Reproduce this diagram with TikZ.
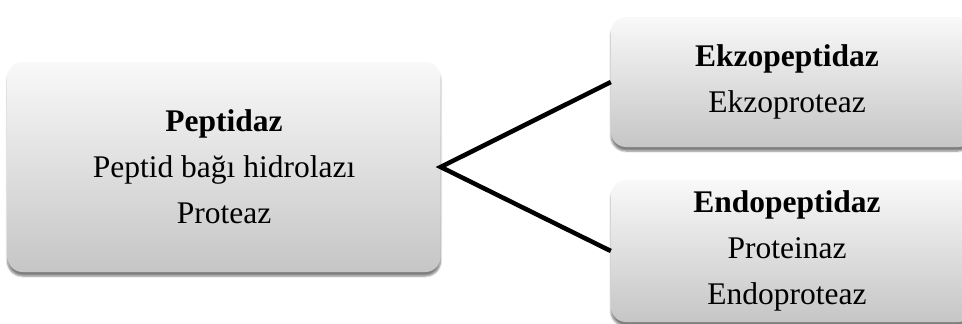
\documentclass[tikz,border=0pt]{standalone}
\usepackage{fontspec}
\setmainfont{Liberation Serif}
\usetikzlibrary{shadows.blur}
\tikzset{
  enzbox/.style={rounded corners=15pt, top color=gray!5, bottom color=gray!45,
    blur shadow={shadow xshift=0pt, shadow yshift=-4pt, shadow blur steps=6, shadow opacity=50},
    align=center, inner sep=0pt, font=\fontsize{31.5}{46}\selectfont},
  branch/.style={line width=4.5pt}
}
\begin{document}
\begin{tikzpicture}[x=1pt, y=-1pt]
    \useasboundingbox (0,0) rectangle (962,324);
    % parent enzyme
    \node[enzbox, minimum width=433pt, minimum height=210pt] (peptidaz) at (224,167)
        {\textbf{Peptidaz}\\Peptid bağı hidrolazı\\Proteaz};
    % two subclasses, cut off at the right edge
    \node[enzbox, minimum width=362pt, minimum height=130pt] (ekzo) at (792,82)
        {\hspace*{-10pt}\textbf{Ekzopeptidaz}\\\hspace*{-10pt}Ekzoproteaz};
    \node[enzbox, minimum width=362pt, minimum height=142pt] (endo) at (792,251)
        {\hspace*{-10pt}\textbf{Endopeptidaz}\\\hspace*{-10pt}Proteinaz\\\hspace*{-10pt}Endoproteaz};
    % fork
    \draw[branch] (ekzo.west) -- (peptidaz.east) -- (endo.west);
\end{tikzpicture}
\end{document}
